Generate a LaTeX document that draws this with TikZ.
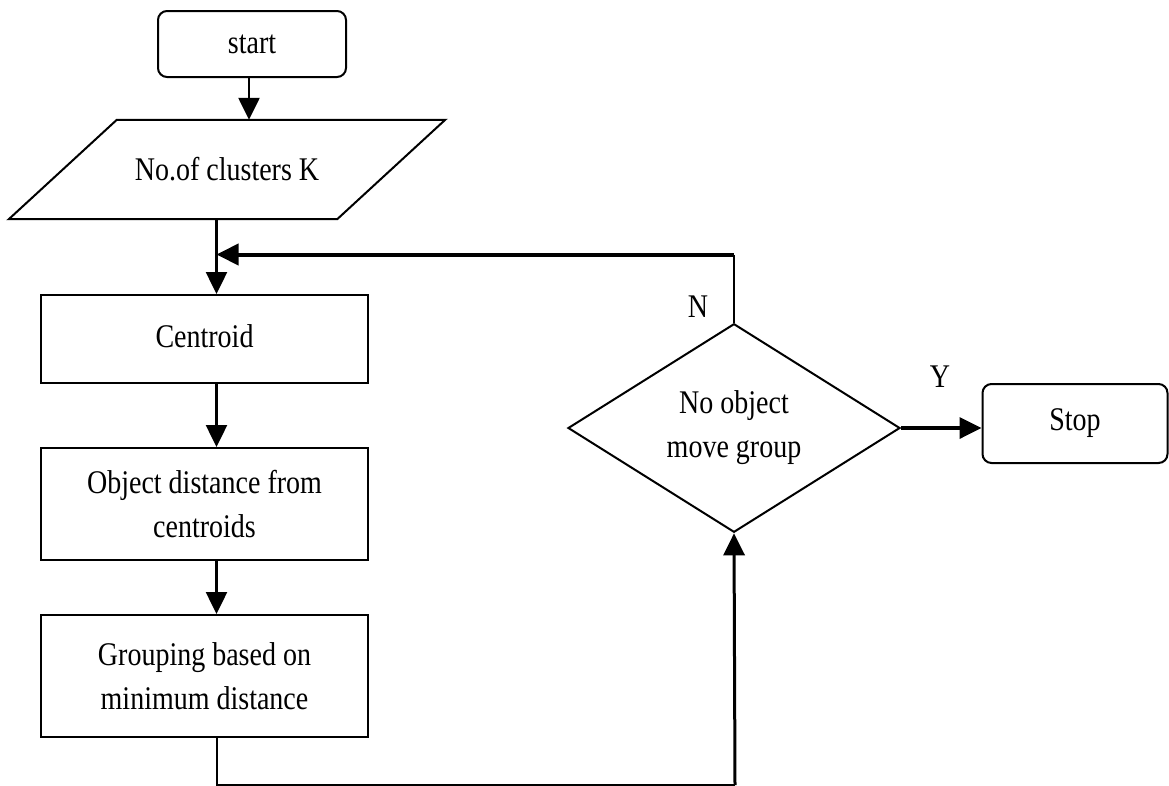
\documentclass[tikz,border=0pt]{standalone}
\usepackage{graphicx}
\usepackage{fontspec}
\setmainfont{Liberation Serif}
\usetikzlibrary{shapes.geometric,arrows.meta}
% slightly tall lettering
\newcommand\tx[1]{\scalebox{1}[1.18]{#1}}
\begin{document}
\begin{tikzpicture}[x=1pt,y=-1pt,
  every node/.style={font=\fontsize{28}{44}\selectfont, inner sep=0pt},
  box/.style={draw, line width=2pt, minimum width=327pt, align=center},
  term/.style={draw, line width=2pt, rounded corners=9pt},
  decision/.style={draw, line width=2pt, diamond, align=center,
    minimum width=332pt, minimum height=201pt},
  tip/.style={-{Triangle[length=22pt,width=21pt]}},
  conn/.style={line width=2.5pt}
]
\useasboundingbox (0,0) rectangle (1169,785);

% main column
\node[term, minimum width=188pt, minimum height=66pt] (start) at (252,44) {\raisebox{-5pt}{\tx{start}}};
\node[minimum width=436pt, minimum height=99pt] (k) at (227,169.5) {\tx{No.of clusters K}};
\draw[line width=2pt, line join=miter] (k.south west) -- ([xshift=-108pt]k.south east)
  -- (k.north east) -- ([xshift=108pt]k.north west) -- cycle;
\node[box, minimum height=88pt] (cen) at (204.5,339) {\raisebox{6pt}{\tx{Centroid}}};
\node[box, minimum height=112pt] (obj) at (204.5,504) {\tx{Object distance from}\\\tx{centroids}};
\node[box, minimum height=122pt] (grp) at (204.5,676) {\tx{Grouping based on}\\\tx{minimum distance}};

% decision and end
\node[decision] (dec) at (734,428) {\tx{No object}\\\tx{move group}};
\node[term, minimum width=185pt, minimum height=79pt] (stop) at (1075,423.5) {\tx{Stop}};
\node (nlab) at (698,307) {\tx{N}};
\node (ylab) at (940,377) {\tx{Y}};

% routing points
\coordinate (spine) at (216.5,0);
\coordinate (fb) at (735,254.5);
\coordinate (bot) at (735,785.2);

% connectors
\draw[conn, tip] ([xshift=-3pt]start.south) -- ([xshift=-3pt]start.south |- k.north);
\draw[conn, tip] (k.south -| spine) -- (cen.north -| spine);
\draw[conn, tip] (cen.south -| spine) -- (obj.north -| spine);
\draw[conn, tip] (obj.south -| spine) -- (grp.north -| spine);
\draw[line width=2pt] (dec.north) -- (dec.north |- fb);
\draw[line width=4pt, tip] (dec.north |- fb) -- (spine |- fb);
\draw[line width=3.5pt, tip] (dec.east) -- (dec.east -| stop.west);
\draw[line width=2pt] (grp.south -| spine) -- (spine |- bot) -- (bot);
\draw[line width=3pt, tip] (bot) -- (dec.south);
\end{tikzpicture}
\end{document}
